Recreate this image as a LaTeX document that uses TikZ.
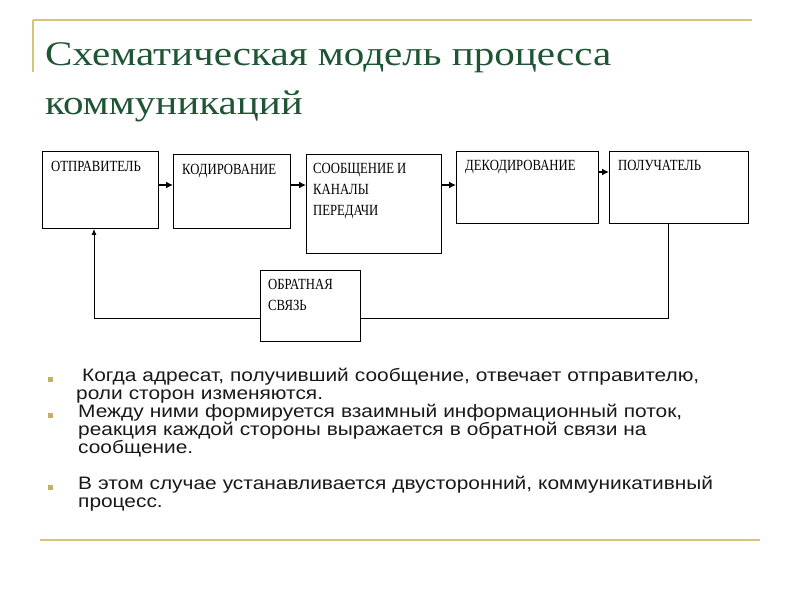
\documentclass[tikz,border=0pt]{standalone}
\usepackage{fontspec}
\setmainfont{Liberation Serif}
\newfontfamily\bodyfont[FakeStretch=1.16]{Liberation Sans}
\newfontfamily\titlefont[FakeStretch=1.19]{Liberation Serif}
\newfontfamily\boxfont[FakeStretch=0.82]{Liberation Serif}
\usetikzlibrary{arrows.meta}
\definecolor{gold}{RGB}{214,196,120}
\definecolor{ttl}{RGB}{30,85,50}
\definecolor{txt}{RGB}{25,25,25}
\begin{document}
\begin{tikzpicture}[x=1pt,y=-1pt,
  blk/.style={draw,line width=0.9pt,anchor=north west,inner sep=0pt},
  lbl/.style={anchor=north west,font=\boxfont\fontsize{15.5}{21}\selectfont,align=left,inner sep=0pt},
  arr/.style={-{Latex[length=7pt,width=7pt]},line width=1.6pt},
  fb/.style={line width=0.9pt},
  bul/.style={anchor=north west,font=\bodyfont\fontsize{18}{18}\selectfont,text=txt,align=left,inner sep=0pt,text width=700pt}]
\fill[white] (0,0) rectangle (800,600);
\useasboundingbox (0,0) rectangle (800,600);
\draw[gold,line width=1.2pt] (33,20) -- (752,20);
\draw[gold,line width=1.2pt] (33,20) -- (33,72);
\draw[gold,line width=1.2pt] (40,540) -- (760,540);
\node[anchor=west,text=ttl,font=\titlefont\fontsize{34.5}{38}\selectfont,inner sep=0pt] (t1) at (45,58) {Схематическая модель процесса};
\node[anchor=west,text=ttl,font=\titlefont\fontsize{34.5}{38}\selectfont,inner sep=0pt] (t2) at (45,106) {коммуникаций};
% boxes
\node[blk,minimum width=116pt,minimum height=77pt] (a) at (42,151) {};
\node[blk,minimum width=117pt,minimum height=74pt] (b) at (173,154) {};
\node[blk,minimum width=135pt,minimum height=99pt] (c) at (306,154) {};
\node[blk,minimum width=142pt,minimum height=72pt] (d) at (456,151) {};
\node[blk,minimum width=139pt,minimum height=72pt] (e) at (609,151) {};
\node[blk,minimum width=100pt,minimum height=71pt] (f) at (260,270) {};
\node[lbl] (la) at (51,161) {ОТПРАВИТЕЛЬ};
\node[lbl] (lb) at (182,164) {КОДИРОВАНИЕ};
\node[lbl] (lc) at (313,163) {СООБЩЕНИЕ И\\КАНАЛЫ\\ПЕРЕДАЧИ};
\node[lbl] (ld) at (465,160) {ДЕКОДИРОВАНИЕ};
\node[lbl] (le) at (618,160) {ПОЛУЧАТЕЛЬ};
\node[lbl] (lf) at (268,279) {ОБРАТНАЯ\\СВЯЗЬ};
\draw[arr] (a.east |- 0,185) -- (b.west |- 0,185);
\draw[arr] (b.east |- 0,185) -- (c.west |- 0,185);
\draw[arr] (c.east |- 0,185) -- (d.west |- 0,185);
\draw[arr] (d.east |- 0,172) -- (e.west |- 0,172);
\draw[fb] (e.south -| 668,0) |- (f.east |- 0,318);
\draw[fb,-{Latex[length=6pt,width=5pt]}] (f.west |- 0,318) -| (a.south -| 94,0);
% bullets
\foreach \y in {377,413,485} \fill[gold!90!black] (48,\y) rectangle +(5,5);
\node[bul] (p1) at (76,368) {\ Когда адресат, получивший сообщение, отвечает отправителю,\\роли сторон изменяются.};
\node[bul] (p2) at (78,404) {Между ними формируется взаимный информационный поток,\\реакция каждой стороны выражается в обратной связи на\\сообщение.};
\node[bul] (p3) at (78,476) {В этом случае устанавливается двусторонний, коммуникативный\\процесс.};
\end{tikzpicture}
\end{document}
